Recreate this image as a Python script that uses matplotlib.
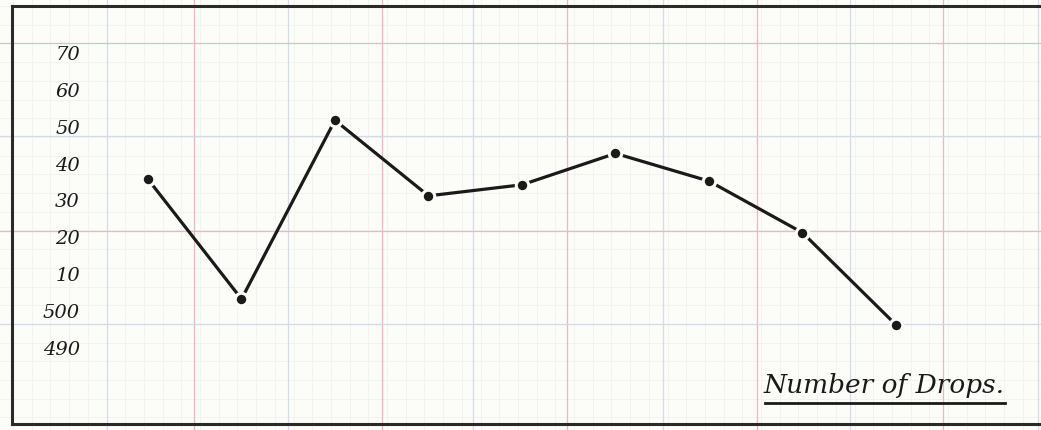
import matplotlib.pyplot as plt
import matplotlib.transforms as mtransforms
import numpy as np

# readings
drops = [1, 2, 3, 4, 5, 6, 7, 8, 9]
values = [536, 503.5, 552, 531.5, 534.5, 543, 535.5, 521.5, 496.5]

tick_values = [570, 560, 550, 540, 530, 520, 510, 500, 490]
tick_labels = ["70", "60", "50", "40", "30", "20", "10", "500", "490"]

W, H = 1041, 431
paper = "#fcfcf8"
ink = "#1a1a1a"

fig = plt.figure(figsize=(W / 100, H / 100), dpi=100)
fig.patch.set_facecolor(paper)

# graph paper, drawn in pixel coords
bg = fig.add_axes([0, 0, 1, 1])
bg.set_xlim(0, W)
bg.set_ylim(H, 0)
bg.axis("off")
bg.set_facecolor(paper)

for x in np.arange(13, W, 18.7):
    bg.axvline(x, color="#f0f2f3", lw=0.6, zorder=0)
for y in np.arange(7, H, 18.7):
    bg.axhline(y, color="#f0f2f3", lw=0.6, zorder=0)

red_x = [194, 382, 567, 757, 943]
light_x = [107, 288, 473, 663, 850, 1038]
red_y = [44, 232]
light_y = [137, 325]
for x in red_x:
    bg.axvline(x, color="#e8b8c4", lw=0.9, zorder=1)
for x in light_x:
    bg.axvline(x, color="#d6dbe8", lw=0.9, zorder=1)
for y in red_y:
    bg.axhline(y, color="#e8b8c4", lw=0.9, zorder=1)
for y in light_y:
    bg.axhline(y, color="#d3dbe9", lw=0.9, zorder=1)

# the chart itself
ax = fig.add_axes([12 / W, (H - 425) / H, (W - 12) / W, (425 - 7) / H])
ax.set_facecolor("none")
ax.set_xlim(-0.4545, 10.551)
ax.set_ylim(469.6, 583.0)
ax.set_xticks([])
ax.set_yticks([])
for s in ["left", "top", "bottom"]:
    ax.spines[s].set_linewidth(2.2)
    ax.spines[s].set_color("#2a2a2a")
ax.spines["right"].set_visible(False)

ax.plot(drops, values, color=ink, lw=2.3, marker="o", markersize=9,
        markerfacecolor=ink, markeredgecolor=paper, markeredgewidth=2.2,
        solid_capstyle="round")

trans = mtransforms.blended_transform_factory(ax.transAxes, ax.transData)
for v, lab in zip(tick_values, tick_labels):
    ax.text(0.066, v, lab, transform=trans, ha="right", va="center",
            fontsize=14, style="italic", family="DejaVu Serif", color=ink)

bg.text(884, 386, "Number of Drops.", ha="center", va="center",
        fontsize=19, style="italic", family="DejaVu Serif", color=ink)
bg.plot([765, 1005], [404, 404], color=ink, lw=2)

fig.savefig("out.png", dpi=100, facecolor=paper)
